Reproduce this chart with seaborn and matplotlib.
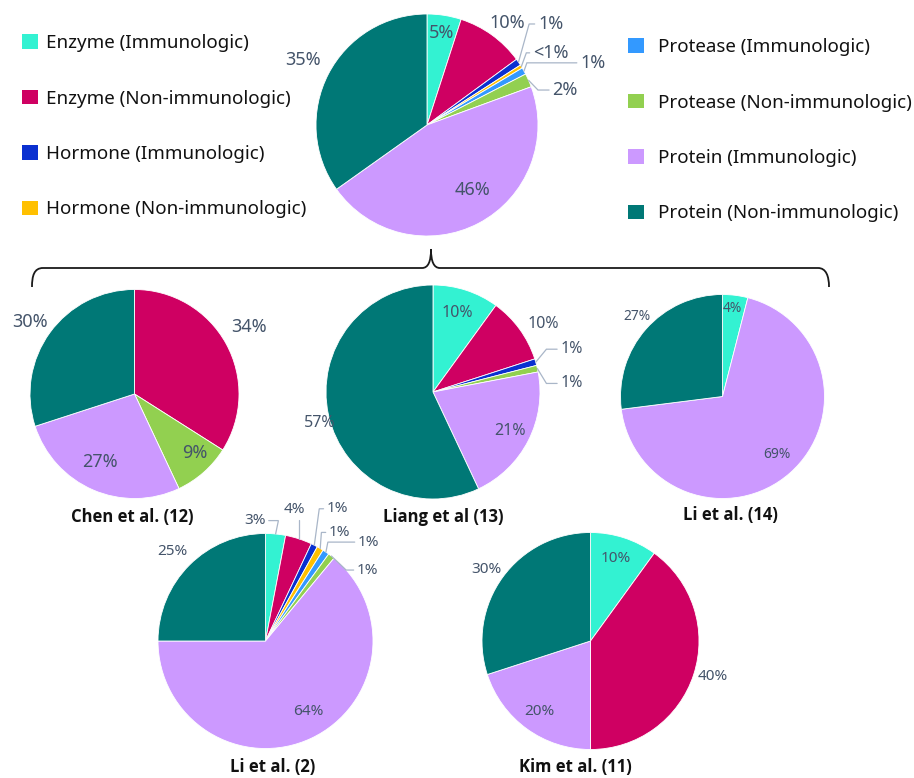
import numpy as np
import matplotlib
matplotlib.use("Agg")
import matplotlib.pyplot as plt
from matplotlib.patches import Patch, PathPatch
from matplotlib.path import Path
import seaborn as sns

# ---- data -------------------------------------------------------------
categories = [
    "Enzyme (Immunologic)",
    "Enzyme (Non-immunologic)",
    "Hormone (Immunologic)",
    "Hormone (Non-immunologic)",
    "Protease (Immunologic)",
    "Protease (Non-immunologic)",
    "Protein (Immunologic)",
    "Protein (Non-immunologic)",
]

# percentage of each category, same order as `categories`
overall = [5, 10, 1, 0.5, 1, 2, 46, 35]
chen_12 = [0, 34, 0, 0, 0, 9, 27, 30]
liang_13 = [10, 10, 1, 0, 0, 1, 21, 57]
li_14 = [4, 0, 0, 0, 0, 0, 69, 27]
li_2 = [3, 4, 1, 1, 1, 1, 64, 25]
kim_11 = [10, 40, 0, 0, 0, 0, 20, 30]

study_titles = ["Chen et al. (12)", "Liang et al (13)", "Li et al. (14)",
                "Li et al. (2)", "Kim et al. (11)"]

# ---- style ------------------------------------------------------------
sns.set_theme(style="white")
plt.rcParams["font.family"] = ["Noto Sans", "DejaVu Sans"]

palette = sns.color_palette(["#33F2D2", "#CF0062", "#0A30D0", "#FFC000",
                             "#3399FF", "#92D050", "#CC99FF", "#007876"])
LABEL_COLOR = "#44546A"
LEADER_COLOR = "#A9B6C8"

W, H = 914, 778
fig = plt.figure(figsize=(W / 100, H / 100), dpi=100)
fig.patch.set_facecolor("white")

# overlay in pixel units for the brace and the study names
ov = fig.add_axes([0, 0, 1, 1], zorder=0)
ov.set_xlim(0, W)
ov.set_ylim(H, 0)
ov.axis("off")

# label placement, in pie-radius units: (x, y, ha, elbow) ; elbow=None -> no leader
layouts = [
    dict(values=overall, cx=427, cy=125, r=111, fs=13, title=None, labels=[
        (0.135, 0.83, "center", None),
        (0.72, 0.92, "center", None),
        (1.00, 0.91, "left", 0.05),
        (0.955, 0.65, "left", 0.03),
        (1.38, 0.56, "left", 0.45),
        (1.13, 0.315, "left", 0.10),
        (0.41, -0.585, "center", None),
        (-1.12, 0.585, "center", None),
    ]),
    dict(values=chen_12, cx=134.5, cy=394, r=104.5, fs=13, title=(132, 517), labels=[
        (1.10, 0.64, "center", None),
        (0.58, -0.565, "center", None),
        (-0.33, -0.65, "center", None),
        (-1.00, 0.69, "center", None),
    ]),
    dict(values=liang_13, cx=433, cy=392, r=107, fs=11.5, title=(443, 517), labels=[
        (0.23, 0.74, "center", None),
        (1.03, 0.64, "center", None),
        (1.19, 0.40, "left", 0.10),
        (1.19, 0.08, "left", 0.10),
        (0.72, -0.36, "center", None),
        (-1.06, -0.29, "center", None),
    ]),
    dict(values=li_14, cx=722.5, cy=396.5, r=102, fs=10, title=(730, 515), labels=[
        (0.10, 0.86, "center", None),
        (0.53, -0.57, "center", None),
        (-0.84, 0.78, "center", None),
    ]),
    dict(values=li_2, cx=265.5, cy=641, r=107.5, fs=11, title=(273, 767), labels=[
        (0.00, 1.12, "right", 0.09),
        (0.27, 1.22, "center", 0.0),
        (0.57, 1.23, "left", 0.04),
        (0.59, 1.01, "left", 0.04),
        (0.86, 0.92, "left", 0.25),
        (0.85, 0.66, "left", 0.07),
        (0.40, -0.66, "center", None),
        (-0.87, 0.83, "center", None),
    ]),
    dict(values=kim_11, cx=590.5, cy=641, r=108.5, fs=11, title=(575, 767), labels=[
        (0.23, 0.76, "center", None),
        (1.13, -0.33, "center", None),
        (-0.47, -0.65, "center", None),
        (-0.96, 0.66, "center", None),
    ]),
]


def pct_text(v):
    return "<1%" if v < 1 else f"{v:.0f}%"


def draw_leader(ax, theta_deg, x, y, ha, elbow, gap=0.03):
    t = np.deg2rad(theta_deg)
    sx, sy = np.cos(t), np.sin(t)
    if ha == "left":
        pts = [(sx, sy), (x - gap - elbow, y), (x - gap, y)]
    elif ha == "right":
        pts = [(sx, sy), (x + gap + elbow, y), (x + gap, y)]
    else:
        pts = [(sx, sy), (sx, y - 0.09)]
    xs, ys = zip(*pts)
    ax.plot(xs, ys, color=LEADER_COLOR, lw=0.9, clip_on=False, solid_joinstyle="miter")


titles = iter(study_titles)
for spec in layouts:
    vals = np.asarray(spec["values"], dtype=float)
    keep = vals > 0
    cols = [c for c, k in zip(palette, keep) if k]
    cx, cy, r = spec["cx"], spec["cy"], spec["r"]
    ax = fig.add_axes([(cx - r) / W, 1 - (cy + r) / H, 2 * r / W, 2 * r / H], zorder=2)
    wedges, _ = ax.pie(vals[keep], colors=cols, startangle=90, counterclock=False,
                       radius=1, wedgeprops=dict(edgecolor="white", linewidth=0.6))
    for w in wedges:
        w.set_clip_on(False)
    ax.set_xlim(-1, 1)
    ax.set_ylim(-1, 1)
    ax.set_aspect("equal")
    ax.axis("off")

    for w, v, (lx, ly, ha, elbow) in zip(wedges, vals[keep], spec["labels"]):
        ax.text(lx, ly, pct_text(v), ha=ha, va="center", fontsize=spec["fs"],
                color=LABEL_COLOR, clip_on=False)
        if elbow is not None:
            draw_leader(ax, 0.5 * (w.theta1 + w.theta2), lx, ly, ha, elbow)

    if spec["title"] is not None:
        tx, ty = spec["title"]
        ov.text(tx, ty, next(titles), ha="center", va="center", fontsize=12,
                fontweight="bold", family=["Open Sans", "Lato", "DejaVu Sans"],
                color="#111111")

# curly brace linking the pooled pie to the individual studies
brace_verts = [(32, 287), (32, 276), (34, 268), (43, 268),
               (422, 268),
               (428, 268), (431, 262), (431, 249),
               (431, 262), (434, 268), (440, 268),
               (818, 268),
               (826, 268), (829, 276), (829, 287)]
brace_codes = [Path.MOVETO, Path.CURVE4, Path.CURVE4, Path.CURVE4,
               Path.LINETO,
               Path.CURVE4, Path.CURVE4, Path.CURVE4,
               Path.CURVE4, Path.CURVE4, Path.CURVE4,
               Path.LINETO,
               Path.CURVE4, Path.CURVE4, Path.CURVE4]
ov.add_patch(PathPatch(Path(brace_verts, brace_codes), facecolor="none",
                       edgecolor="#1a1a1a", lw=1.3))

# legend in two columns beside the pooled pie
handles = [Patch(facecolor=c, edgecolor="none") for c in palette]
common = dict(frameon=False, fontsize=13.5, handlelength=0.85, handleheight=0.85,
              labelspacing=2.0, borderpad=0, borderaxespad=0, labelcolor="#111111")
fig.legend(handles[:4], categories[:4], loc="upper left",
           bbox_to_anchor=(22 / W, 1 - 34 / H), handletextpad=0.42, **common)
fig.legend(handles[4:], categories[4:], loc="upper left",
           bbox_to_anchor=(628 / W, 1 - 38 / H), handletextpad=0.75, **common)

fig.savefig("out.png", dpi=100, facecolor="white")
